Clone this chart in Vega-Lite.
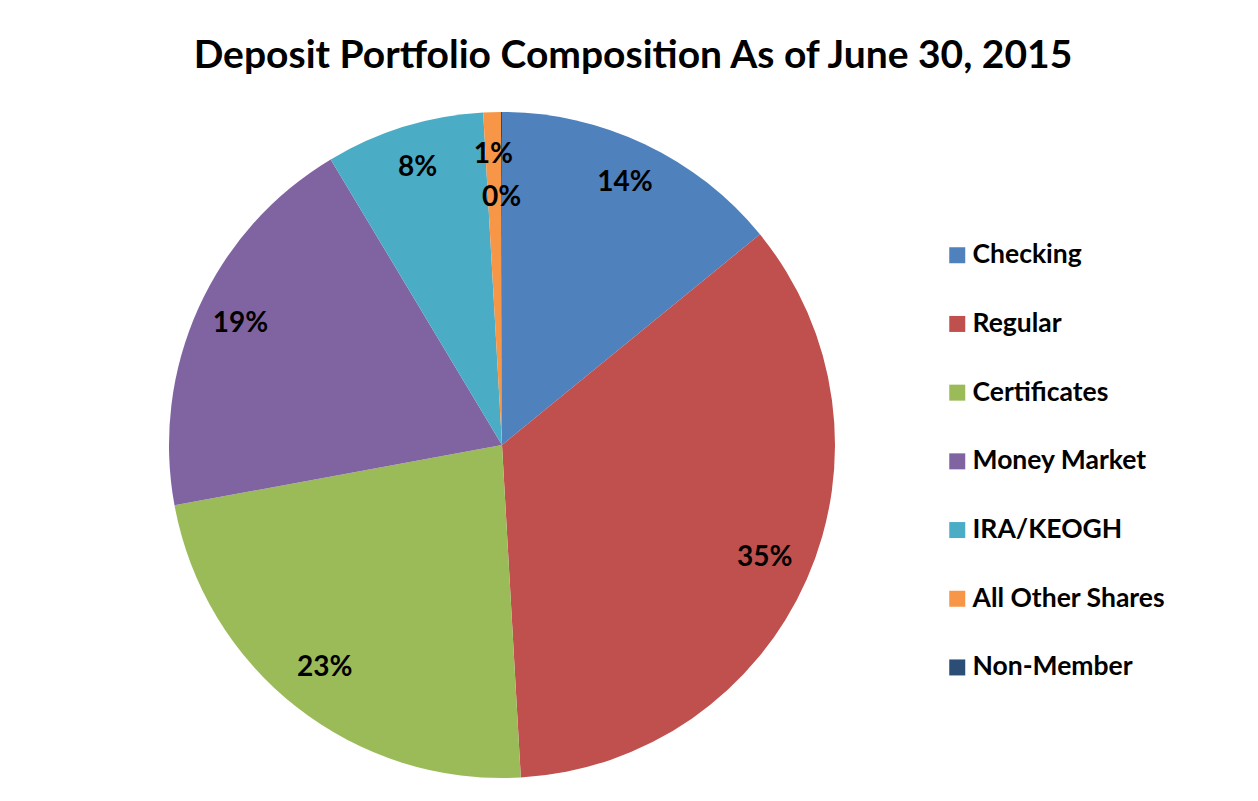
{
  "$schema": "https://vega.github.io/schema/vega-lite/v6.json",
  "autosize": "none",
  "width": 666,
  "height": 666,
  "padding": {"left": 169, "top": 112, "right": 423, "bottom": 23},
  "background": "white",
  "config": {"view": {"stroke": null}, "font": "Lato"},
  "title": {
    "text": "Deposit Portfolio Composition As of June 30, 2015",
    "fontSize": 39,
    "fontWeight": "bold",
    "font": "Lato",
    "color": "#000000",
    "anchor": "middle",
    "dx": 131,
    "baseline": "alphabetic",
    "offset": 5
  },
  "data": {
    "values": [
      {"category": "Checking", "rank": 1, "share": 0.141},
      {"category": "Regular", "rank": 2, "share": 0.350},
      {"category": "Certificates", "rank": 3, "share": 0.230},
      {"category": "Money Market", "rank": 4, "share": 0.193},
      {"category": "IRA/KEOGH", "rank": 5, "share": 0.077},
      {"category": "All Other Shares", "rank": 6, "share": 0.0085},
      {"category": "Non-Member", "rank": 7, "share": 0.0005}
    ]
  },
  "encoding": {
    "theta": {"field": "share", "type": "quantitative", "stack": true},
    "order": {"field": "rank", "type": "quantitative", "sort": "ascending"}
  },
  "layer": [
    {
      "mark": {"type": "arc", "radius": 333},
      "encoding": {
        "color": {
          "field": "category",
          "type": "nominal",
          "sort": ["Checking", "Regular", "Certificates", "Money Market", "IRA/KEOGH", "All Other Shares", "Non-Member"],
          "scale": {
            "domain": ["Checking", "Regular", "Certificates", "Money Market", "IRA/KEOGH", "All Other Shares", "Non-Member"],
            "range": ["#4F81BD", "#C0504D", "#9BBB59", "#8064A2", "#4BACC6", "#F79646", "#2C4D75"]
          },
          "legend": {
            "orient": "none",
            "legendX": 775,
            "legendY": 130,
            "title": null,
            "symbolType": "square",
            "symbolSize": 256,
            "symbolStrokeWidth": 0,
            "labelFontSize": 26.5,
            "labelFontWeight": "bold",
            "labelFont": "Lato",
            "labelColor": "#000000",
            "labelOffset": 2,
            "rowPadding": 41.7,
            "labelLimit": 400
          }
        }
      }
    },
    {
      "mark": {
        "type": "text",
        "radius": 287,
        "fontSize": 28,
        "fontWeight": "bold",
        "font": "Lato",
        "color": "#000000",
        "dy": {"expr": "datum.category === 'Non-Member' ? 40 : -3"}
      },
      "encoding": {
        "text": {"field": "share", "type": "quantitative", "format": ".0%"}
      }
    }
  ]
}
